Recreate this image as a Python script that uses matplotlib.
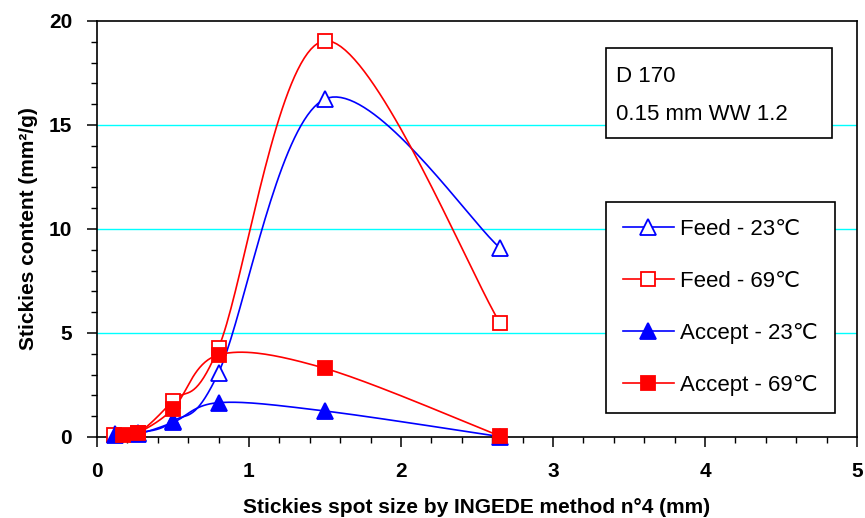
#coding=utf-8
'''stickies content vs spot size (D 170)'''
import numpy as np
import matplotlib
matplotlib.use('Agg')
import matplotlib.pyplot as plt
from matplotlib.patches import Rectangle
from matplotlib.ticker import MultipleLocator

plt.rcParams['font.family'] = ['Liberation Sans', 'DejaVu Sans']

x_feed23 = [0.12, 0.27, 0.5, 0.8, 1.5, 2.65]
y_feed23 = [0.15, 0.2, 0.75, 3.1, 16.25, 9.1]
x_feed69 = [0.11, 0.27, 0.5, 0.8, 1.5, 2.65]
y_feed69 = [0.1, 0.2, 1.75, 4.3, 19.05, 5.5]
x_acc23 = [0.12, 0.27, 0.5, 0.8, 1.5, 2.65]
y_acc23 = [0.1, 0.15, 0.7, 1.65, 1.25, 0.02]
x_acc69 = [0.17, 0.27, 0.5, 0.8, 1.5, 2.65]
y_acc69 = [0.1, 0.2, 1.35, 3.95, 3.3, 0.05]

labels = ['Feed - 23℃', 'Feed - 69℃', 'Accept - 23℃', 'Accept - 69℃']

BLUE = '#0000FF'
RED = '#FF0000'

W, H = 865, 518

#############################################


def smooth(ax, xs, ys, n=40):
    # excel-like bezier smoothing, done in screen space
    pts = ax.transData.transform(np.column_stack([xs, ys]))
    out = [pts[0]]
    t = np.linspace(0, 1, n)[1:, None]
    for i in range(len(pts) - 1):
        p0 = pts[max(i - 1, 0)]
        p1 = pts[i]
        p2 = pts[i + 1]
        p3 = pts[min(i + 2, len(pts) - 1)]
        c1 = p1 + (p2 - p0) / 6
        c2 = p2 - (p3 - p1) / 6
        seg = (1 - t)**3 * p1 + 3 * (1 - t)**2 * t * c1 + \
            3 * (1 - t) * t**2 * c2 + t**3 * p2
        out.extend(seg)
    out = ax.transData.inverted().transform(np.array(out))
    return out[:, 0], out[:, 1]


fig = plt.figure(figsize=(W / 100, H / 100), dpi=100)
ax = fig.add_axes([97 / W, 1 - 437 / H, (857 - 97) / W, (437 - 21) / H])
ax.set_xlim(0, 5)
ax.set_ylim(0, 20)

for v in [5, 10, 15]:
    ax.axhline(v, color='#00FFFF', lw=1.0, zorder=0)

series = [
    (x_feed23, y_feed23, BLUE, '^', 'white', 11),
    (x_feed69, y_feed69, RED, 's', 'white', 10),
    (x_acc23, y_acc23, BLUE, '^', BLUE, 11),
    (x_acc69, y_acc69, RED, 's', RED, 10),
]
handles = []
for (xs, ys, c, m, fc, ms), lab in zip(series, labels):
    sx, sy = smooth(ax, xs, ys)
    ax.plot(sx, sy, color=c, lw=1.2)
    ax.plot(xs, ys, ls='none', marker=m, ms=ms, mfc=fc, mec=c, mew=1.3,
            clip_on=False, zorder=4)
    h, = ax.plot([], [], color=c, lw=1.2, marker=m, ms=ms, mfc=fc, mec=c,
                 mew=1.3)
    handles.append(h)

ax.xaxis.set_major_locator(MultipleLocator(1))
ax.xaxis.set_minor_locator(MultipleLocator(0.2))
ax.yaxis.set_major_locator(MultipleLocator(5))
ax.yaxis.set_minor_locator(MultipleLocator(1))
ax.tick_params(which='major', direction='out', length=7, width=1.1,
               labelsize=15)
ax.tick_params(axis='x', which='major', pad=11)
ax.tick_params(axis='y', which='major', pad=11)
ax.tick_params(which='minor', direction='out', length=4, width=1.0)
for lab in ax.get_xticklabels() + ax.get_yticklabels():
    lab.set_fontweight('bold')
for s in ax.spines.values():
    s.set_linewidth(1.2)

ax.set_xlabel('Stickies spot size by INGEDE method n°4 (mm)',
              fontsize=15, fontweight='bold', labelpad=12)
ax.set_ylabel('Stickies content (mm²/g)', fontsize=15, fontweight='bold',
              labelpad=8)

leg = fig.legend(handles, labels, loc='upper left',
                 bbox_to_anchor=(606 / W, 1 - 202 / H), borderaxespad=0,
                 fontsize=16, handlelength=2.3, labelspacing=1.4,
                 borderpad=0.75, handletextpad=0.3, fancybox=False,
                 framealpha=1, edgecolor='black')
leg.get_frame().set_linewidth(1.2)

# info box
fig.patches.append(Rectangle((606 / W, 1 - 138 / H), (832 - 606) / W,
                             (138 - 48) / H, transform=fig.transFigure,
                             fill=True, facecolor='white', edgecolor='black',
                             lw=1.2, zorder=5))
fig.text(616 / W, 1 - 77 / H, 'D 170', fontsize=16, va='center', zorder=6)
fig.text(616 / W, 1 - 115 / H, '0.15 mm WW 1.2', fontsize=16, va='center',
         zorder=6)

fig.savefig('out.png', dpi=100)
